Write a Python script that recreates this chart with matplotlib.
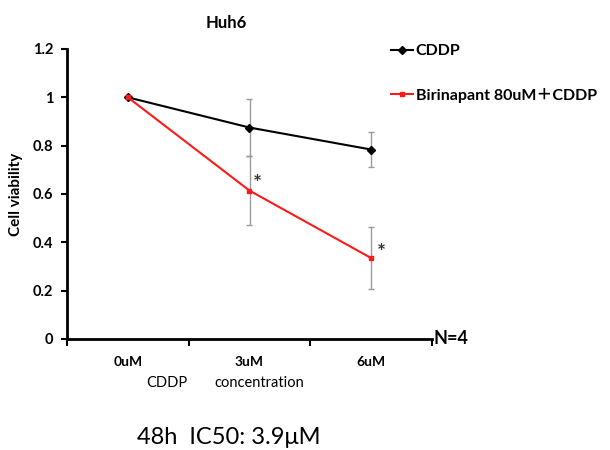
import matplotlib
matplotlib.use("Agg")
import matplotlib.pyplot as plt

# data
concentrations = ["0uM", "3uM", "6uM"]
cddp_mean = [1.0, 0.875, 0.784]
cddp_err = [0.0, 0.119, 0.072]
combo_mean = [1.0, 0.614, 0.335]
combo_err = [0.0, 0.142, 0.13]
combo_sig = [False, True, True]
y_ticks = [0, 0.2, 0.4, 0.6, 0.8, 1, 1.2]
y_tick_labels = ["0", "0.2", "0.4", "0.6", "0.8", "1", "1.2"]

plt.rcParams["font.family"] = ["Lato", "DejaVu Sans"]

fig = plt.figure(figsize=(6.1, 4.5), dpi=100)
ax = fig.add_axes([67 / 610, 1 - 339 / 450, (432 - 67) / 610, (339 - 49) / 450])

xs = list(range(len(concentrations)))

# grey error bars first, then the lines on top
ax.errorbar(xs, cddp_mean, yerr=cddp_err, fmt="none", ecolor="#9a9a9a",
            elinewidth=1, capsize=2.3, capthick=1, zorder=2)
ax.errorbar(xs, combo_mean, yerr=combo_err, fmt="none", ecolor="#9a9a9a",
            elinewidth=1, capsize=2.3, capthick=1, zorder=2)

ax.plot(xs, cddp_mean, color="black", lw=1.5, marker="D", markersize=4,
        label="CDDP", zorder=3)
ax.plot(xs, combo_mean, color="#ff1a1a", lw=1.5, marker="s", markersize=3.5,
        label="Birinapant 80uM\uff0bCDDP", zorder=4)

# significance stars
star_offsets = [(0, 0), (5.5, 4.5), (7, 3.5)]
for i, sig in enumerate(combo_sig):
    if sig:
        ax.annotate("*", xy=(xs[i], combo_mean[i]), xytext=star_offsets[i],
                    textcoords="offset points", ha="center", va="center",
                    fontsize=15, fontweight="bold", color="#333333")

ax.set_xlim(-0.5, 2.5)
ax.set_ylim(0, 1.2)
ax.set_yticks(y_ticks)
ax.set_yticklabels(y_tick_labels, fontsize=10.5, fontweight="bold")
ax.set_xticks(xs)
ax.set_xticklabels(concentrations, fontsize=10, fontweight="bold")
ax.set_xticks([-0.5, 0.5, 1.5, 2.5], minor=True)
ax.tick_params(axis="x", which="major", length=0, pad=12)
ax.tick_params(axis="x", which="minor", length=5, width=1.5, direction="out")
ax.tick_params(axis="y", length=4, width=1.5, direction="out", pad=6)

for side in ["top", "right"]:
    ax.spines[side].set_visible(False)
for side in ["left", "bottom"]:
    ax.spines[side].set_linewidth(2)

ax.set_ylabel("Cell viability", fontsize=11, fontweight="bold", labelpad=7)

ax.text(1.005, 0.0, "N=4", transform=ax.transAxes, fontsize=13,
        fontweight="bold", ha="left", va="center")

fig.text(167 / 610, 1 - 383 / 450, "CDDP", fontsize=10.5, ha="center", va="center")
fig.text(259 / 610, 1 - 383 / 450, "concentration", fontsize=10.5, ha="center", va="center")
fig.text(226 / 610, 1 - 23 / 450, "Huh6", fontsize=12, fontweight="bold",
         ha="center", va="center")
fig.text(229 / 610, 1 - 437 / 450, "48h  IC50: 3.9\u03bcM", fontsize=17,
         ha="center", va="center")

leg = fig.legend(loc="upper left", bbox_to_anchor=(391 / 610, 1 - 44 / 450),
                 frameon=False, fontsize=11.5, handlelength=1.4,
                 handletextpad=0.15, labelspacing=1.85, borderpad=0,
                 borderaxespad=0)
for t in leg.get_texts():
    t.set_fontweight("bold")
    t.set_family(["Lato", "Noto Sans CJK JP", "DejaVu Sans"])

fig.savefig("out.png", dpi=100)
